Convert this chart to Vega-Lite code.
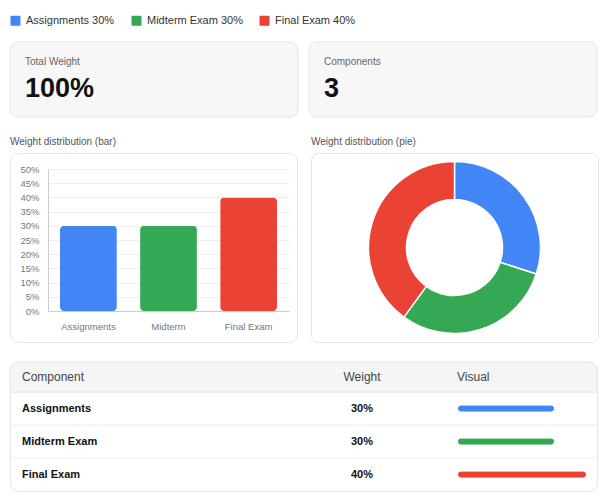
{
  "$schema": "https://vega.github.io/schema/vega-lite/v6.json",
  "padding": {"left": 9, "top": 15, "right": 10, "bottom": 10},
  "background": "#ffffff",
  "spacing": 18,
  "datasets": {
    "w": [
      {"component": "Assignments", "short": "Assignments", "legend": "Assignments 30%", "weight": 0.3, "n": 1},
      {"component": "Midterm Exam", "short": "Midterm", "legend": "Midterm Exam 30%", "weight": 0.3, "n": 2},
      {"component": "Final Exam", "short": "Final Exam", "legend": "Final Exam 40%", "weight": 0.4, "n": 3}
    ]
  },
  "vconcat": [
    {
      "width": 587,
      "height": 75,
      "view": {"stroke": null},
      "data": {"values": [{"metric": "Total Weight", "value": "100%"}, {"metric": "Components", "value": "3"}]},
      "encoding": {
        "x": {"field": "metric", "type": "nominal", "sort": null, "scale": {"paddingInner": 0.0368, "paddingOuter": 0}, "axis": null}
      },
      "layer": [
        {"mark": {"type": "bar", "fill": "#f7f7f7", "stroke": "#e6e6e6", "strokeWidth": 1, "cornerRadius": 8}},
        {
          "mark": {"type": "text", "align": "left", "baseline": "middle", "dx": 15, "dy": -17.5, "fontSize": 10, "color": "#666666"},
          "encoding": {"x": {"field": "metric", "type": "nominal", "sort": null, "bandPosition": 0}, "text": {"field": "metric"}}
        },
        {
          "mark": {"type": "text", "align": "left", "baseline": "alphabetic", "dx": 15, "dy": 17.5, "fontSize": 27, "fontWeight": "bold", "color": "#111111"},
          "encoding": {"x": {"field": "metric", "type": "nominal", "sort": null, "bandPosition": 0}, "text": {"field": "value"}}
        }
      ]
    },
    {
      "spacing": 12,
      "hconcat": [
        {
          "title": "Weight distribution (bar)",
          "width": 287,
          "height": 189,
          "view": {"fill": "#ffffff", "stroke": "#e6e6e6", "cornerRadius": 8},
          "data": {"name": "w"},
          "mark": {"type": "bar", "cornerRadius": 4},
          "encoding": {
            "x": {
              "field": "short", "type": "nominal", "sort": ["Assignments", "Midterm", "Final Exam"],
              "scale": {"range": [38, 279], "paddingInner": 0.29, "paddingOuter": 0.15},
              "axis": {"title": null, "labelAngle": 0, "offset": -31, "ticks": false, "tickSize": 0, "labelPadding": 10, "labelFontSize": 9.5, "labelColor": "#777777", "domainColor": "#cccccc"}
            },
            "y": {
              "field": "weight", "type": "quantitative",
              "scale": {"domain": [0, 0.5], "range": [158, 16], "nice": false},
              "axis": {"title": null, "offset": -38, "values": [0, 0.05, 0.1, 0.15, 0.2, 0.25, 0.3, 0.35, 0.4, 0.45, 0.5], "format": ".0%", "ticks": false, "tickSize": 0, "labelPadding": 9, "labelFontSize": 9.5, "labelColor": "#777777", "domainColor": "#cccccc", "gridColor": "#eeeeee"}
            },
            "color": {
              "field": "legend", "type": "nominal", "title": null,
              "scale": {"domain": ["Assignments 30%", "Midterm Exam 30%", "Final Exam 40%"], "range": ["#4285F4", "#34A853", "#EA4335"]}
            }
          }
        },
        {
          "title": "Weight distribution (pie)",
          "width": 287,
          "height": 189,
          "view": {"fill": "#ffffff", "stroke": "#e6e6e6", "cornerRadius": 8},
          "data": {"name": "w"},
          "mark": {"type": "arc", "innerRadius": 48, "outerRadius": 86, "stroke": "#ffffff", "strokeWidth": 1.5},
          "encoding": {
            "theta": {"field": "weight", "type": "quantitative", "stack": true},
            "order": {"field": "n", "type": "quantitative"},
            "color": {
              "field": "legend", "type": "nominal", "title": null,
              "scale": {"domain": ["Assignments 30%", "Midterm Exam 30%", "Final Exam 40%"], "range": ["#4285F4", "#34A853", "#EA4335"]}
            }
          }
        }
      ]
    },
    {
      "width": 587,
      "height": 129,
      "view": {"fill": "#ffffff", "stroke": "#e6e6e6", "cornerRadius": 8},
      "data": {"name": "w"},
      "encoding": {
        "y": {"field": "component", "type": "nominal", "sort": ["Assignments", "Midterm Exam", "Final Exam"], "scale": {"range": [30, 129], "paddingInner": 0, "paddingOuter": 0}, "axis": null}
      },
      "layer": [
        {
          "data": {"values": [{"part": "header"}]},
          "mark": {"type": "rect", "fill": "#f5f5f5", "stroke": "#e6e6e6", "strokeWidth": 1, "cornerRadiusTopLeft": 8, "cornerRadiusTopRight": 8},
          "encoding": {"x": {"value": 0}, "x2": {"value": "width"}, "y": {"value": 0}, "y2": {"value": 30}}
        },
        {
          "data": {"values": [{"part": "header"}]},
          "mark": {"type": "text", "text": "Component", "align": "left", "baseline": "middle", "fontSize": 12, "color": "#444444"},
          "encoding": {"x": {"value": 12}, "y": {"value": 15}}
        },
        {
          "data": {"values": [{"part": "header"}]},
          "mark": {"type": "text", "text": "Weight", "align": "center", "baseline": "middle", "fontSize": 12, "color": "#444444"},
          "encoding": {"x": {"value": 352}, "y": {"value": 15}}
        },
        {
          "data": {"values": [{"part": "header"}]},
          "mark": {"type": "text", "text": "Visual", "align": "left", "baseline": "middle", "fontSize": 12, "color": "#444444"},
          "encoding": {"x": {"value": 447}, "y": {"value": 15}}
        },
        {
          "mark": {"type": "rule", "color": "#ececec", "strokeWidth": 1},
          "encoding": {"y": {"field": "component", "type": "nominal", "sort": ["Assignments", "Midterm Exam", "Final Exam"], "bandPosition": 0}}
        },
        {
          "mark": {"type": "text", "align": "left", "baseline": "middle", "fontSize": 11, "fontWeight": "bold", "color": "#111111"},
          "encoding": {"x": {"value": 12}, "text": {"field": "component"}}
        },
        {
          "mark": {"type": "text", "align": "center", "baseline": "middle", "fontSize": 11, "fontWeight": "bold", "color": "#111111"},
          "encoding": {"x": {"value": 352}, "text": {"field": "weight", "type": "quantitative", "format": ".0%"}}
        },
        {
          "mark": {"type": "bar", "size": 6.5, "cornerRadius": 3.25},
          "encoding": {
            "x": {"field": "weight", "type": "quantitative", "scale": {"domain": [0, 1], "range": [448, 768]}, "axis": null},
            "color": {
              "field": "legend", "type": "nominal", "title": null,
              "scale": {"domain": ["Assignments 30%", "Midterm Exam 30%", "Final Exam 40%"], "range": ["#4285F4", "#34A853", "#EA4335"]}
            }
          }
        }
      ]
    }
  ],
  "config": {
    "font": "Liberation Sans",
    "title": {"fontSize": 10, "fontWeight": "normal", "color": "#555555", "anchor": "start", "offset": 6},
    "axis": {"labelFont": "Liberation Sans"},
    "legend": {
      "orient": "top",
      "direction": "horizontal",
      "symbolType": "square",
      "symbolSize": 100,
      "symbolStrokeWidth": 0,
      "symbolOpacity": 1,
      "labelFontSize": 11,
      "labelColor": "#333333",
      "labelOffset": 5,
      "columnPadding": 16,
      "padding": 0,
      "offset": 15
    }
  }
}
